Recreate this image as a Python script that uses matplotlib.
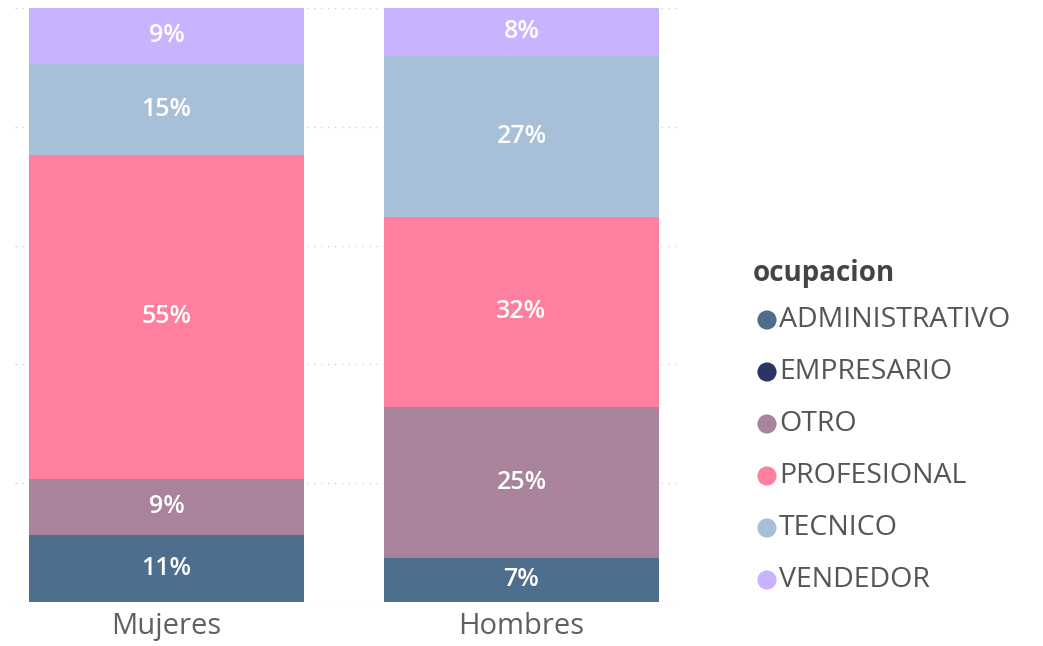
import matplotlib
matplotlib.use("Agg")
import matplotlib.pyplot as plt

# Datos (porcentaje de cada ocupacion por sexo)
grupos = ["Mujeres", "Hombres"]
ocupaciones = ["ADMINISTRATIVO", "EMPRESARIO", "OTRO", "PROFESIONAL", "TECNICO", "VENDEDOR"]
administrativo = [11.3, 7.45]
empresario = [0.0, 0.0]
otro = [9.4, 25.45]
profesional = [54.6, 31.9]
tecnico = [15.3, 27.2]
vendedor = [9.4, 8.0]
colores = ["#4E6E8E", "#2B3467", "#A8839B", "#FF7F9F", "#A7C0D7", "#C9B3FE"]

series = [administrativo, empresario, otro, profesional, tecnico, vendedor]

W, H = 1043, 646
fig = plt.figure(figsize=(W / 100, H / 100), dpi=100)

# eje principal en pixeles: x 15..680, y 8..602
ax = fig.add_axes([15 / W, (H - 602) / H, (680 - 15) / W, 594 / H])
x = [0, 1]
base = [0.0, 0.0]
for vals, col in zip(series, colores):
    ax.bar(x, vals, bottom=base, width=0.775, color=col, edgecolor="none", zorder=2)
    for i, v in enumerate(vals):
        if v >= 3:
            ax.text(x[i], base[i] + v / 2, "%.0f%%" % v, ha="center", va="center",
                    color="white", fontsize=18, fontweight="semibold",
                    family="Open Sans", zorder=3)
    base = [b + v for b, v in zip(base, vals)]

ax.set_xlim((15 - 166.5) / 355, (680 - 166.5) / 355)
ax.set_ylim(0, 100)
for g in [0, 20, 40, 60, 80, 100]:
    ax.axhline(g, color="#d0d0d8", linestyle=(0, (1, 4)), linewidth=1, zorder=1)
for s in ax.spines.values():
    s.set_visible(False)
ax.set_yticks([])
ax.set_xticks(x)
ax.set_xticklabels(grupos, fontsize=21, color="#606060", family="Open Sans")
ax.tick_params(axis="x", length=0, pad=7)

# leyenda a mano, en coordenadas de pixel
lg = fig.add_axes([0, 0, 1, 1])
lg.set_xlim(0, W)
lg.set_ylim(H, 0)
lg.axis("off")
lg.patch.set_alpha(0)
lg.text(753, 274, "ocupacion", fontsize=20, fontweight="bold", color="#444444",
        family="Open Sans", va="center", ha="left")
for k, (nom, col) in enumerate(zip(ocupaciones, colores)):
    yy = 320 + k * 52
    lg.scatter([767], [yy], s=190, color=col, edgecolors="none")
    lg.text(779, yy, nom, fontsize=20.5, color="#555555", family="Open Sans",
            va="center", ha="left")

fig.savefig("out.png", dpi=100)
